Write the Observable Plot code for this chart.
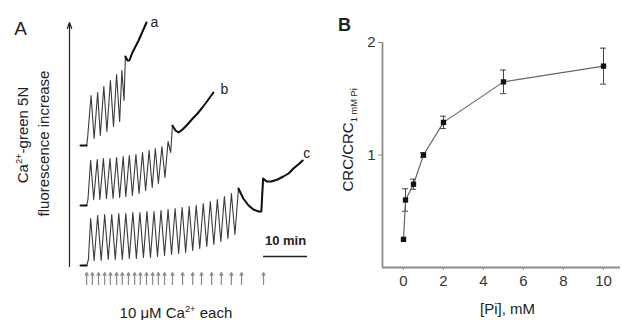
<!DOCTYPE html>
<html><head><meta charset="utf-8">
<script src="https://cdn.jsdelivr.net/npm/d3@7"></script>
<script src="https://cdn.jsdelivr.net/npm/@observablehq/plot@0.6"></script>
<style>
body{margin:0;background:#fff;}
#wrap{display:flex;width:621px;height:320px;overflow:hidden;}
svg{display:block;}
</style></head><body><div id="wrap"></div>
<script>
// ---------- Panel A data: time (min) vs Ca2+-green 5N fluorescence (a.u., traces offset) ----------
const traceA_t = [0, 1.4, 1.6, 2.4, 3.1, 3.9, 4.5, 5.3, 6.0, 6.8, 7.5, 8.2, 8.9, 9.4, 9.9, 10.2, 10.7, 11.1, 11.8, 12.5, 13.2, 13.9, 14.5, 15.0];
const traceA_f = [12.0, 12.0, 12.7, 17.0, 12.7, 17.3, 13.0, 17.9, 13.4, 18.5, 13.9, 19.1, 14.4, 19.5, 16.5, 20.9, 20.5, 20.5, 21.3, 21.9, 22.5, 23.2, 23.8, 24.3];

const traceB_t = [0, 1.4, 1.7, 2.3, 3.0, 3.8, 4.4, 5.2, 5.9, 6.7, 7.4, 8.2, 8.9, 9.7, 10.3, 11.1, 11.8, 12.6, 13.3, 14.1, 14.8, 15.6, 16.3, 17.0, 17.7, 18.5, 19.2, 19.9, 20.5, 20.9, 21.6, 22.3, 23.2, 24.3, 25.5, 26.6, 27.7, 28.9, 30.2];
const traceB_f = [6.0, 6.0, 6.6, 10.5, 6.6, 10.6, 6.6, 10.7, 6.7, 10.7, 6.7, 10.8, 6.8, 10.9, 6.9, 11.0, 7.0, 11.1, 7.2, 11.3, 7.5, 11.5, 7.8, 11.7, 8.2, 11.9, 8.8, 12.4, 11.3, 14.0, 13.5, 13.3, 13.6, 14.1, 14.7, 15.2, 15.8, 16.5, 17.3];

const traceC_start_t = [0, 1.4, 1.8];
const traceC_start_f = [0, 0, 0.6];
const traceC_peak_t = [2.3, 3.9, 5.5, 7.1, 8.7, 10.3, 11.9, 13.5, 15.1, 16.7, 18.3, 19.9, 21.5, 23.1, 24.7, 26.3, 27.9, 29.5, 31.1, 32.7, 34.3, 35.9];
const traceC_peak_f = [4.7, 5.0, 5.1, 5.1, 5.2, 5.2, 5.3, 5.3, 5.4, 5.4, 5.5, 5.6, 5.7, 5.8, 5.9, 6.0, 6.2, 6.4, 6.6, 6.9, 7.2, 7.7];
const traceC_trough_t = [3.1, 4.7, 6.3, 7.9, 9.5, 11.1, 12.7, 14.3, 15.9, 17.5, 19.1, 20.7, 22.3, 23.9, 25.5, 27.1, 28.7, 30.3, 31.9, 33.5, 35.1];
const traceC_trough_f = [0.5, 0.5, 0.6, 0.6, 0.6, 0.7, 0.7, 0.8, 0.8, 0.9, 1.0, 1.1, 1.2, 1.3, 1.5, 1.7, 1.9, 2.1, 2.4, 2.7, 3.1];
const traceC_tail_t = [37.0, 38.2, 39.3, 40.5, 41.1, 41.5, 42.3, 43.4, 44.8, 46.1, 47.3, 48.4, 49.5, 50.5];
const traceC_tail_f = [6.7, 6.0, 5.6, 5.4, 5.4, 8.7, 8.4, 8.4, 8.6, 8.9, 9.2, 9.7, 10.1, 10.5];

// Ca2+ additions (10 µM each), min
const caAdd_t = [1.4, 2.7, 4.1, 5.5, 6.8, 8.2, 9.5, 10.9, 12.3, 13.6, 15.0, 16.4, 17.7, 19.1, 20.9, 23.2, 25.5, 27.5, 29.8, 32.0, 34.3, 36.6, 41.6];

const traceNames = ["a", "b", "c"];

// ---------- Panel B data ----------
const pi_mM = [0, 0.1, 0.5, 1, 2, 5, 10];
const crcRatio = [0.25, 0.60, 0.74, 1.0, 1.29, 1.65, 1.79];
const crcErr = [0, 0.10, 0.045, 0.02, 0.055, 0.105, 0.16];
const xTicksB = [0, 2, 4, 6, 8, 10];
const yTicksB = [1, 2];

// ---------- layout / style ----------
const FONT = '"Liberation Sans", Arial, Helvetica, sans-serif';
const INK = "#222";
const labelPos = {a: [16.8, 24.3], b: [32.7, 17.6], c: [51.4, 11.2]};

const rowsA = traceA_t.map((t, i) => ({t, f: traceA_f[i]}));
const rowsB = traceB_t.map((t, i) => ({t, f: traceB_f[i]}));
const rowsC = [
  ...traceC_start_t.map((t, i) => ({t, f: traceC_start_f[i]})),
  ...traceC_peak_t.flatMap((t, i) => i < traceC_trough_t.length
      ? [{t, f: traceC_peak_f[i]}, {t: traceC_trough_t[i], f: traceC_trough_f[i]}]
      : [{t, f: traceC_peak_f[i]}]),
  ...traceC_tail_t.map((t, i) => ({t, f: traceC_tail_f[i]}))
];
const thickA = rowsA.slice(15), thickB = rowsB.slice(29), thickC = rowsC.slice(rowsC.length - traceC_tail_t.length - 1);
const labels = traceNames.map(n => ({n, t: labelPos[n][0], f: labelPos[n][1]}));

const oscStyle = {x: "t", y: "f", stroke: "#3a3a3a", strokeWidth: 1.1};
const thickStyle = {x: "t", y: "f", stroke: "#111", strokeWidth: 2};

const plotA = Plot.plot({
  width: 320, height: 320,
  marginLeft: 80, marginRight: 20, marginTop: 15, marginBottom: 55,
  x: {domain: [0, 50], axis: null},
  y: {domain: [0, 25], axis: null},
  style: {fontFamily: FONT, fontSize: "15px", color: INK, background: "white", overflow: "visible"},
  marks: [
    Plot.arrow([0], {x1: -2.5, x2: -2.5, y1: -0.1, y2: 24.3, stroke: INK, strokeWidth: 1.2, headLength: 8, headAngle: 40}),
    Plot.line(rowsA, oscStyle),
    Plot.line(rowsB, oscStyle),
    Plot.line(rowsC, oscStyle),
    Plot.line(rowsA.slice(0, 2), thickStyle),
    Plot.line(rowsB.slice(0, 2), thickStyle),
    Plot.line(rowsC.slice(0, 2), thickStyle),
    Plot.line(thickA, thickStyle),
    Plot.line(thickB, thickStyle),
    Plot.line(thickC, thickStyle),
    Plot.text(labels, {x: "t", y: "f", text: "n", fontSize: 14, fill: INK}),
    Plot.arrow(caAdd_t, {x1: d => d, x2: d => d, y1: -1.9, y2: -0.7, stroke: "#8a8a8a", strokeWidth: 1.2, headLength: 4, headAngle: 55}),
    Plot.ruleY([0.9], {x1: 41.6, x2: 51.6, stroke: INK, strokeWidth: 1.5}),
    Plot.text(["10 min"], {x: 46.6, y: 2.5, fontSize: 13, fontWeight: "bold", fill: INK}),
    Plot.text(["A"], {x: -13.6, y: 23.7, fontSize: 19, fill: INK})
  ]
});

const dataB = pi_mM.map((x, i) => ({x, y: crcRatio[i], e: crcErr[i]}));
const errB = dataB.filter(d => d.e > 0);
const CAP = 0.15;

const plotB = Plot.plot({
  width: 301, height: 320,
  marginLeft: 62, marginRight: 1, marginTop: 42, marginBottom: 53,
  x: {domain: [-1.05, 10.85]},
  y: {domain: [0, 2]},
  style: {fontFamily: FONT, fontSize: "15px", color: INK, background: "white", overflow: "visible"},
  marks: [
    Plot.ruleY([0], {x1: -1.05, x2: 10.85, stroke: "#8c8c8c", strokeWidth: 1.8}),
    Plot.ruleX([-1.05], {y1: 0, y2: 2, stroke: "#8c8c8c", strokeWidth: 1.8}),
    Plot.axisX({ticks: xTicksB, tickFormat: d => String(d), tickSize: 3, tickPadding: 5, stroke: "#8c8c8c", fill: "#333", fontSize: 15, label: null}),
    Plot.axisY({ticks: yTicksB, tickFormat: d => String(d), tickSize: 4, tickPadding: 3, stroke: "#8c8c8c", fill: "#333", fontSize: 15, label: null}),
    Plot.ruleX(errB, {x: "x", y1: d => d.y - d.e, y2: d => d.y + d.e, stroke: "#444", strokeWidth: 1}),
    Plot.ruleY(errB, {y: d => d.y + d.e, x1: d => d.x - CAP, x2: d => d.x + CAP, stroke: "#444", strokeWidth: 1}),
    Plot.ruleY(errB, {y: d => d.y - d.e, x1: d => d.x - CAP, x2: d => d.x + CAP, stroke: "#444", strokeWidth: 1}),
    Plot.line(dataB, {x: "x", y: "y", stroke: "#666", strokeWidth: 1.2}),
    Plot.dot(dataB, {x: "x", y: "y", symbol: "square", r: 3, fill: "#111", stroke: "none"}),
    Plot.text(["[Pi], mM"], {x: 5.2, y: 0, dy: 42, fontSize: 15, fill: INK}),
    Plot.text(["B"], {x: -2.95, y: 2.15, fontSize: 18, fontWeight: "bold", fill: INK})
  ]
});

const wrap = document.getElementById("wrap");
wrap.append(plotA, plotB);

// rich text (super/subscripts) placed through the plots' scales
function rich(plot, xv, yv, parts, opt = {}) {
  const sx = plot.scale("x"), sy = plot.scale("y");
  const size = opt.size || 15;
  const x = sx.apply(xv), y = sy.apply(yv);
  const t = d3.select(plot).append("text")
    .attr("transform", `translate(${x},${y})` + (opt.rotate ? ` rotate(${opt.rotate})` : ""))
    .attr("text-anchor", "middle")
    .attr("font-family", FONT).attr("font-size", size).attr("fill", INK);
  let shift = 0;
  for (const p of parts) {
    const target = p.sup ? -0.4 * size : p.sub ? 0.28 * size : 0;
    t.append("tspan").attr("dy", target - shift)
      .attr("font-size", (p.sup || p.sub) ? size * 0.62 : size).text(p.t);
    shift = target;
  }
}
rich(plotA, -11.8, 13.0, [{t: "Ca"}, {t: "2+", sup: true}, {t: "-green 5N"}], {rotate: -90});
rich(plotA, -7.0, 12.15, [{t: "fluorescence increase"}], {rotate: -90});
rich(plotA, 21.8, -5.3, [{t: "10 μM Ca"}, {t: "2+", sup: true}, {t: " each"}]);
rich(plotB, -2.5, 1.13, [{t: "CRC/CRC"}, {t: "1 mM Pi", sub: true}], {rotate: -90});
</script>
</body></html>
